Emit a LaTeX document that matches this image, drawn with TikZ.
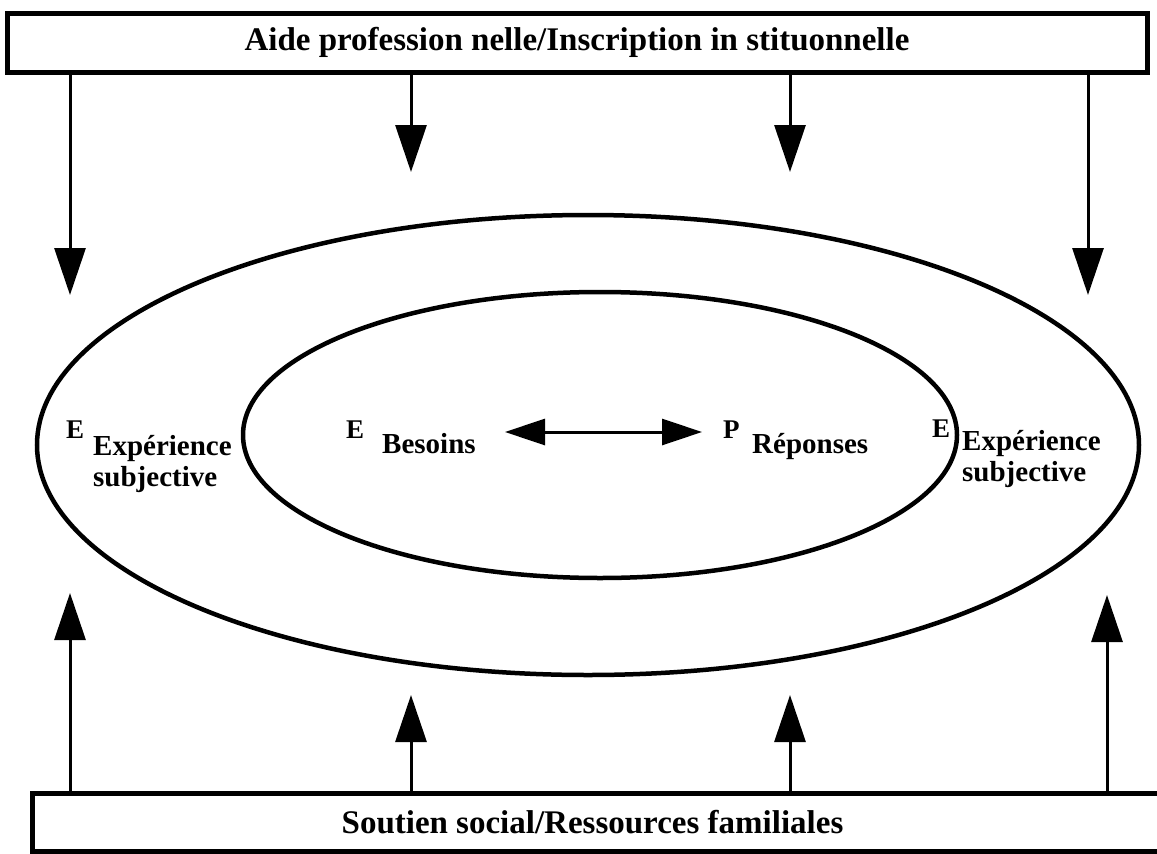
\documentclass[tikz,border=0pt]{standalone}
\usepackage{fontspec}
\setmainfont{Liberation Serif}
\usetikzlibrary{arrows.meta,shapes.geometric}
\tikzset{
  bandeau/.style={draw, line width=5pt, inner sep=0pt, font=\fontsize{33}{36}\selectfont\bfseries},
  anneau/.style={draw, ellipse, line width=4.5pt, inner sep=0pt},
  fleche/.style={line width=3pt, -{Triangle[length=47pt,width=31pt]}},
  doublefleche/.style={line width=3pt, {Triangle[length=40pt,width=26pt]}-{Triangle[length=40pt,width=26pt]}},
  lettre/.style={anchor=base west, inner sep=0pt, font=\fontsize{27}{30}\selectfont\bfseries},
  libelle/.style={anchor=base west, inner sep=0pt, font=\fontsize{29}{32}\selectfont\bfseries}
}
\begin{document}
\begin{tikzpicture}[x=1pt,y=-1pt]
\useasboundingbox (0,0) rectangle (1157,854);
\node[bandeau, minimum width=1140pt, minimum height=59pt] (haut) at (577,42.5) {Aide profession nelle/Inscription in stituonnelle};
\node[bandeau, minimum width=1133pt, minimum height=58pt] (bas) at (598.5,822) {\hspace*{-12pt}Soutien social/Ressources familiales};
\node[anneau, minimum width=1102pt, minimum height=460pt] (externe) at (588,445) {};
\node[anneau, minimum width=714pt, minimum height=286pt] (interne) at (600,435) {};
\coordinate (h1) at (70,295);\coordinate (h2) at (411,172);\coordinate (h3) at (790,172);\coordinate (h4) at (1088,295);
\coordinate (b1) at (70,593);\coordinate (b2) at (411,695);\coordinate (b3) at (790,695);\coordinate (b4) at (1107,595);
\foreach \c in {h1,h2,h3,h4}{
  \draw[fleche] (haut.south -| \c) -- (\c);
}
\foreach \c in {b1,b2,b3,b4}{
  \draw[fleche] (bas.north -| \c) -- (\c);
}
\node[lettre] (eg) at (66,438) {E};
\node[libelle] (expg) at (93,455) {Expérience};
\node[libelle] (subg) at (93,486) {subjective};
\node[lettre] (eb) at (346,438) {E};
\node[libelle] (besoins) at (382,453) {Besoins};
\node[lettre] (pr) at (723,438) {P};
\node[libelle] (reponses) at (752,453) {Réponses};
\node[lettre] (ed) at (932,437) {E};
\node[libelle] (expd) at (962,450) {Expérience};
\node[libelle] (subd) at (962,481) {subjective};
\coordinate (fg) at (505,432);\coordinate (fd) at (702,432);
\draw[doublefleche] (fg) -- (fd);
\end{tikzpicture}
\end{document}
